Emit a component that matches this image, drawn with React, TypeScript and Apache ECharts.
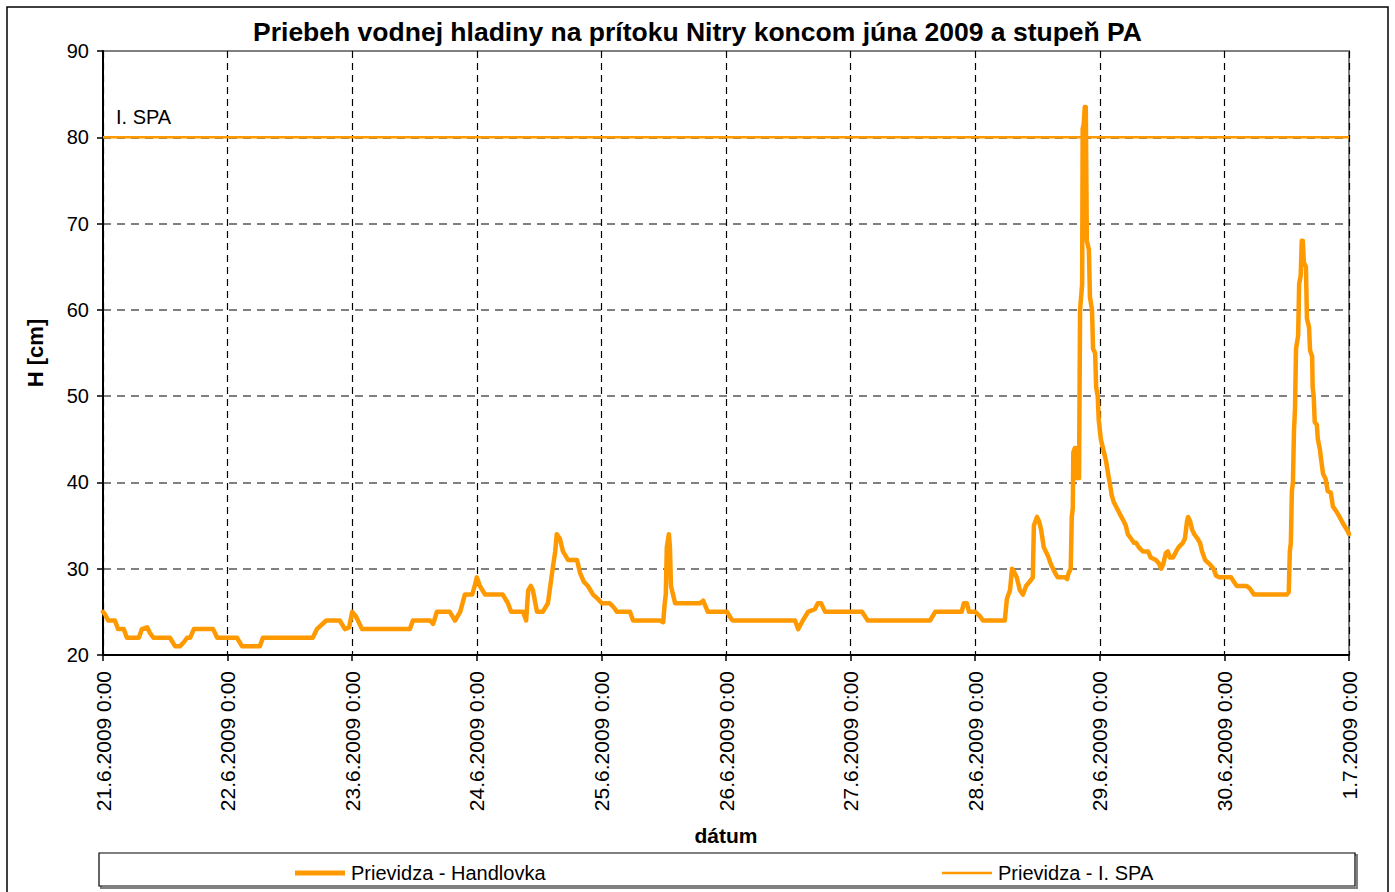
import React, { useEffect, useRef } from "react";
import * as echarts from "echarts";

const titleText = "Priebeh vodnej hladiny na prítoku Nitry koncom júna 2009 a stupeň PA";
const seriesNames = ["Prievidza - Handlovka", "Prievidza - I. SPA"];
const dateLabels = [
  "21.6.2009 0:00", "22.6.2009 0:00", "23.6.2009 0:00", "24.6.2009 0:00",
  "25.6.2009 0:00", "26.6.2009 0:00", "27.6.2009 0:00", "28.6.2009 0:00",
  "29.6.2009 0:00", "30.6.2009 0:00", "1.7.2009 0:00",
];
// hours since 21.6.2009 0:00
const hours = [
  0, 0.4, 1.0, 2.3, 2.9, 4.0, 4.6, 6.9, 7.5, 8.5, 9.1, 9.7, 12.9, 13.9, 14.8, 15.6, 16.2, 16.8, 17.5, 21.2,
  22.0, 25.8, 26.8, 30.2, 30.8, 40.4, 41.2, 43.0, 45.6, 46.6, 47.4, 48.0, 48.7, 49.1, 49.9, 59.1, 59.7, 63.0,
  63.6, 64.3, 66.8, 67.8, 68.8, 69.7, 71.1, 71.6, 72.0, 72.6, 73.6, 77.0, 78.0, 78.6, 80.9, 81.5, 81.9, 82.4,
  82.8, 83.6, 84.7, 85.7, 86.5, 87.1, 87.4, 88.0, 88.6, 89.6, 91.3, 91.9, 92.6, 93.4, 94.4, 95.3, 96.1, 97.6,
  98.4, 99.0, 101.5, 102.1, 107.3, 107.9, 108.2, 108.4, 108.6, 109.0, 109.2, 109.4, 109.8, 110.2, 115.0,
  115.6, 116.5, 120.2, 121.0, 121.3, 133.3, 133.9, 134.8, 135.8, 137.1, 137.7, 138.3, 139.1, 146.2, 147.3,
  159.3, 160.3, 165.4, 165.8, 166.4, 166.8, 168.0, 168.9, 169.5, 173.3, 173.7, 174.1, 174.7, 175.1, 175.6,
  176.0, 176.6, 177.2, 177.8, 178.5, 179.1, 179.3, 179.9, 180.3, 180.7, 181.2, 182.0, 182.6, 183.4, 183.9,
  185.3, 185.7, 186.0, 186.4, 186.6, 186.8, 186.9, 187.2, 187.4, 187.6, 188.0, 188.2, 188.6, 188.7, 188.9,
  189.1, 189.3, 189.5, 189.9, 190.1, 190.5, 190.7, 191.1, 191.3, 191.6, 191.8, 192.2, 192.4, 192.8, 193.2,
  193.6, 193.9, 194.3, 194.7, 195.3, 195.9, 196.6, 197.0, 197.4, 198.0, 198.6, 199.0, 199.5, 200.3, 201.3,
  201.8, 202.8, 203.4, 203.8, 204.2, 204.7, 205.1, 205.5, 206.1, 206.7, 207.2, 208.0, 208.4, 208.8, 209.0,
  209.4, 209.8, 210.2, 210.8, 211.3, 211.7, 212.3, 213.2, 213.9, 214.4, 215.0, 217.3, 217.8, 218.4, 220.3,
  220.9, 221.7, 228.0, 228.4, 228.6, 228.8, 229.0, 229.2, 229.4, 229.6, 229.8, 230.2, 230.4, 230.7, 230.9,
  231.1, 231.3, 231.7, 231.9, 232.3, 232.5, 232.9, 233.0, 233.2, 233.4, 233.8, 234.0, 234.4, 234.6, 235.0,
  235.5, 235.9, 236.5, 236.9, 237.5, 238.1, 238.8, 239.8, 240,
];
const levels = [
  25, 24.7, 24, 24, 23, 23, 22, 22, 23, 23.2, 22.5, 22, 22, 21, 21, 21.5, 22, 22, 23, 23,
  22, 22, 21, 21, 22, 22, 23, 24, 24, 23, 23.2, 25, 24.5, 24, 23, 23, 24, 24,
  23.6, 25, 25, 24, 25, 27, 27, 28, 29, 28, 27, 27, 26, 25, 25, 24, 27.5, 28,
  27.5, 25, 25, 26, 29.5, 32, 34, 33.5, 32, 31, 31, 29.5, 28.5, 28, 27, 26.5, 26, 26,
  25.5, 25, 25, 24, 24, 23.8, 26, 27, 32.5, 34, 32.5, 28, 27, 26, 26,
  26.3, 25, 25, 24.2, 24, 24, 23, 24, 25, 25.3, 26, 26, 25, 25, 24,
  24, 25, 25, 26, 26, 25, 25, 24.5, 24, 24, 24, 26.5, 27.5, 30, 29.5,
  29, 27.5, 27, 28, 28.5, 29, 35, 36, 35.5, 34.5, 32.5, 31.5, 30.5, 29.5, 29,
  29, 28.8, 29.5, 30, 36, 37, 43.5, 44, 44, 40.5, 40.5, 60, 63, 81, 81.5,
  83.5, 83.5, 68, 67, 61.5, 60, 55.5, 55, 51, 50, 47.2, 45, 44.5, 43.5, 42.5,
  41, 40, 38.5, 37.7, 37, 36.3, 35.5, 35, 34, 33.5, 33, 33, 32.5, 32, 32,
  31.3, 31, 30.6, 30, 30.5, 31.8, 32, 31.3, 31.3, 32, 32.5, 33, 33.5, 35.5, 36,
  35.5, 34.5, 34, 33.5, 33, 32, 31, 30.5, 30, 29.2, 29, 29, 28.5, 28, 28,
  27.7, 27, 27, 27.3, 32, 33, 39, 40, 46, 48.5, 55.5, 57, 63, 64, 68,
  68, 65.5, 65, 59, 58, 55.3, 54.6, 51, 50, 47, 46.7, 45, 43.8, 42.8, 41,
  40.4, 39, 38.8, 37.2, 36.7, 36.1, 35.3, 34.3, 34,
];
const spaLevel = 80;
const spaLabel = "I. SPA";
const xName = "dátum";
const yName = "H [cm]";

const FONT = "'Liberation Sans', Arial, sans-serif";
const ORANGE = "#FF9900";

export default function App() {
  const ref = useRef<HTMLDivElement>(null);
  useEffect(() => {
    if (!ref.current) return;
    const chart = echarts.init(ref.current, null, { renderer: "svg" });
    const mainData = hours.map((h, i) => [h, levels[i]]);
    const spaData = [[0, spaLevel], [240, spaLevel]];
    const legendText = { fontFamily: FONT, fontSize: 20, color: "#000", padding: [0, 0, 0, 1] };
    chart.setOption({
      animation: false,
      backgroundColor: "#ffffff",
      textStyle: { fontFamily: FONT, color: "#000" },
      title: {
        text: titleText,
        left: "center",
        top: 13,
        textStyle: { fontFamily: FONT, fontSize: 26.5, fontWeight: "bold", color: "#000" },
      },
      grid: {
        left: 103,
        right: 46,
        top: 51,
        bottom: 237,
        show: true,
        borderColor: "#808080",
        borderWidth: 2,
        backgroundColor: "transparent",
      },
      legend: [
        {
          data: [{ name: seriesNames[0], icon: "rect" }],
          left: 290,
          top: 858,
          itemWidth: 50,
          itemHeight: 5,
          itemGap: 0,
          textStyle: legendText,
        },
        {
          data: [{ name: seriesNames[1], icon: "rect" }],
          left: 937,
          top: 858,
          itemWidth: 50,
          itemHeight: 2.5,
          itemGap: 0,
          textStyle: legendText,
        },
      ],
      xAxis: {
        type: "value",
        min: 0,
        max: 240,
        interval: 24,
        name: xName,
        nameLocation: "middle",
        nameGap: 170,
        nameTextStyle: { fontFamily: FONT, fontSize: 21, fontWeight: "bold", color: "#000" },
        axisLine: { show: true, onZero: false, lineStyle: { color: "#000", width: 2 } },
        axisTick: { show: true, length: 6, lineStyle: { color: "#000", width: 1.5 } },
        axisLabel: {
          rotate: 90,
          margin: 16,
          fontFamily: FONT,
          fontSize: 21,
          color: "#000",
          formatter: (v: number) => dateLabels[Math.round(v / 24)] ?? "",
        },
        splitLine: { show: true, lineStyle: { color: "#000", width: 1.2, type: [7, 5] } },
      },
      yAxis: {
        type: "value",
        min: 20,
        max: 90,
        interval: 10,
        name: yName,
        nameLocation: "middle",
        nameRotate: 90,
        nameGap: 57,
        nameTextStyle: { fontFamily: FONT, fontSize: 22, fontWeight: "bold", color: "#000" },
        axisLine: { show: true, lineStyle: { color: "#000", width: 2 } },
        axisTick: { show: true, length: 6, lineStyle: { color: "#000", width: 1.5 } },
        axisLabel: { margin: 14, fontFamily: FONT, fontSize: 20, color: "#000" },
        splitLine: { show: true, lineStyle: { color: "#808080", width: 2, type: [8, 6] } },
      },
      series: [
        {
          name: seriesNames[1],
          type: "line",
          data: spaData,
          showSymbol: false,
          symbol: "none",
          lineStyle: { color: ORANGE, width: 2.5 },
          itemStyle: { color: ORANGE },
          z: 3,
        },
        {
          name: seriesNames[0],
          type: "line",
          data: mainData,
          showSymbol: false,
          symbol: "none",
          lineStyle: { color: ORANGE, width: 4.5, join: "round", cap: "round" },
          itemStyle: { color: ORANGE },
          z: 4,
        },
      ],
      graphic: [
        {
          type: "rect",
          shape: { x: 7, y: 7, width: 1381, height: 900 },
          style: { fill: "none", stroke: "#000", lineWidth: 1.5 },
          silent: true,
        },
        {
          type: "rect",
          shape: { x: 101, y: 855, width: 1256, height: 33 },
          style: { fill: "none", stroke: "#808080", lineWidth: 2 },
          silent: true,
          z: 0,
        },
        {
          type: "rect",
          shape: { x: 99, y: 853, width: 1256, height: 33 },
          style: { fill: "#fff", stroke: "#000", lineWidth: 1.2 },
          silent: true,
          z: 1,
        },
        {
          type: "text",
          left: 116,
          top: 107,
          style: { text: spaLabel, fontFamily: FONT, fontSize: 20, fill: "#000" },
          silent: true,
        },
      ],
    });
    return () => chart.dispose();
  }, []);
  return (
    <div
      ref={ref}
      style={{ position: "fixed", left: 0, top: 0, width: 1395, height: 892, background: "#fff" }}
    />
  );
}
